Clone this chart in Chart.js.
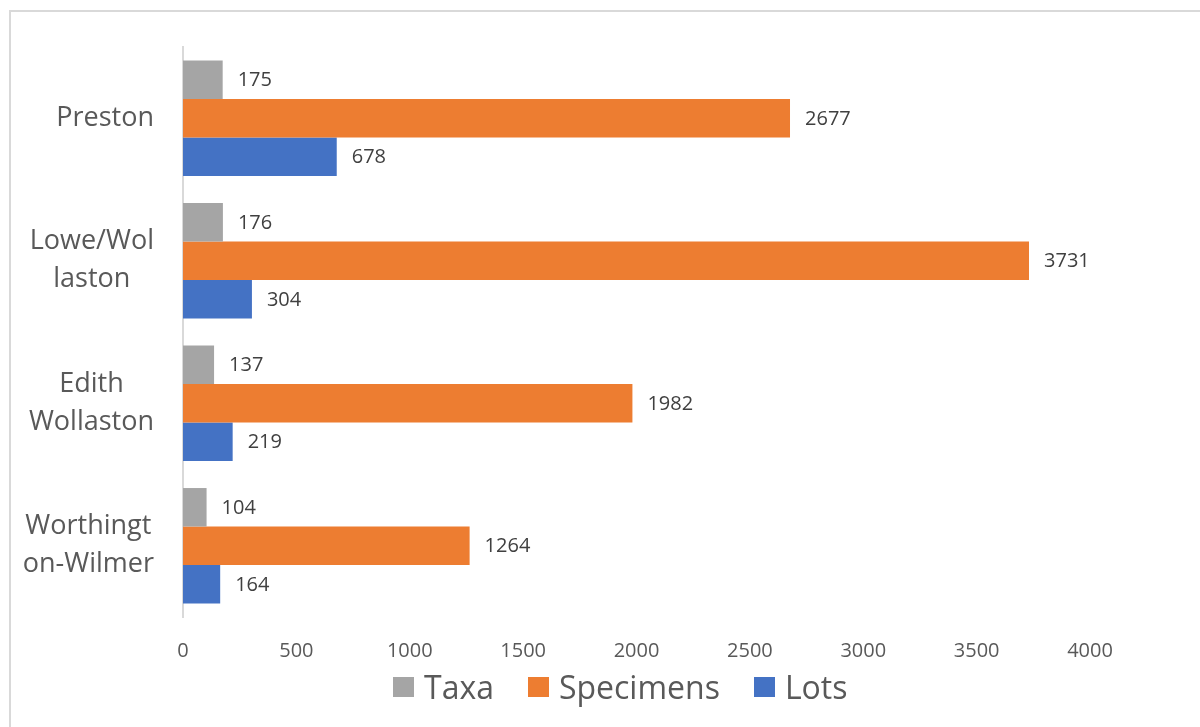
<!DOCTYPE html>
<html>
<head>
<meta charset="utf-8">
<script src="https://cdn.jsdelivr.net/npm/chart.js@4"></script>
<style>
    body { margin: 0; background: #fff; }
    #wrap { position: relative; width: 1200px; height: 727px; overflow: hidden; font-family: 'Open Sans', sans-serif; }
    #frame { position: absolute; left: 9px; top: 10px; width: 1300px; height: 800px; border: 2px solid #d9d9d9; }
    #chart { position: absolute; left: 0; top: 0; }
    #legend { position: absolute; left: 393px; top: 666px; display: flex; gap: 34px; color: #595959; font-size: 32px; line-height: 42px; }
    #legend .item { display: flex; align-items: center; }
    #legend .box { width: 21px; height: 20px; margin-right: 10px; }
</style>
</head>
<body>
<div id="wrap">
    <div id="frame"></div>
    <canvas id="chart" width="1200" height="727"></canvas>
    <div id="legend"></div>
</div>
<script>
const categories = [['Preston'], ['Lowe/Wol', 'laston'], ['Edith', 'Wollaston'], ['Worthingt', 'on-Wilmer']];
const taxa = [175, 176, 137, 104];
const specimens = [2677, 3731, 1982, 1264];
const lots = [678, 304, 219, 164];
const xTicks = [0, 500, 1000, 1500, 2000, 2500, 3000, 3500, 4000];

const FONT = "'Open Sans', sans-serif";
const TEXT = '#595959';

// value labels at the end of each bar
const barLabels = {
    id: 'barLabels',
    afterDatasetsDraw(chart) {
        const ctx = chart.ctx;
        ctx.save();
        ctx.font = '20px ' + FONT;
        ctx.fillStyle = '#404040';
        ctx.textAlign = 'left';
        ctx.textBaseline = 'middle';
        chart.data.datasets.forEach((ds, i) => {
            chart.getDatasetMeta(i).data.forEach((bar, j) => {
                ctx.fillText(ds.data[j], bar.x + 15, bar.y + 1);
            });
        });
        ctx.restore();
    }
};

// category labels: lines centred in their block, block right-aligned
const catLabels = {
    id: 'catLabels',
    afterDraw(chart) {
        const ctx = chart.ctx;
        const y = chart.scales.y;
        const right = 154;
        const lh = 38;
        ctx.save();
        ctx.font = '27px ' + FONT;
        ctx.fillStyle = TEXT;
        ctx.textAlign = 'center';
        ctx.textBaseline = 'middle';
        categories.forEach((lines, i) => {
            const w = Math.max(...lines.map(l => ctx.measureText(l).width));
            const cx = right - w / 2;
            const cy = y.getPixelForValue(i);
            lines.forEach((l, k) => {
                ctx.fillText(l, cx, cy + (k - (lines.length - 1) / 2) * lh);
            });
        });
        ctx.restore();
    }
};

const chart = new Chart(document.getElementById('chart'), {
    type: 'bar',
    data: {
        labels: categories,
        datasets: [
            { label: 'Taxa', data: taxa, backgroundColor: '#a5a5a5' },
            { label: 'Specimens', data: specimens, backgroundColor: '#ed7d31' },
            { label: 'Lots', data: lots, backgroundColor: '#4472c4' }
        ]
    },
    options: {
        indexAxis: 'y',
        responsive: false,
        animation: false,
        categoryPercentage: 0.81,
        barPercentage: 1,
        layout: { padding: { left: 10, top: 47, right: 110, bottom: 60 } },
        scales: {
            x: {
                min: 0, max: 4000,
                afterBuildTicks: s => { s.ticks = xTicks.map(v => ({ value: v })); },
                grid: { display: false },
                border: { display: false },
                ticks: { color: TEXT, font: { family: FONT, size: 20 }, padding: 14, callback: v => String(v) },
                afterFit: s => { s.height = 50; }
            },
            y: {
                grid: { display: false },
                border: { display: true, color: '#d9d9d9', width: 2 },
                ticks: { display: false },
                afterFit: s => { s.width = 173; }
            }
        },
        plugins: {
            legend: { display: false },
            tooltip: { enabled: false }
        }
    },
    plugins: [barLabels, catLabels]
});

// legend built from the datasets
const legendEl = document.getElementById('legend');
chart.data.datasets.forEach(ds => {
    const item = document.createElement('div');
    item.className = 'item';
    item.innerHTML = `<span class="box" style="background:${ds.backgroundColor}"></span><span>${ds.label}</span>`;
    legendEl.appendChild(item);
});
</script>
</body>
</html>
